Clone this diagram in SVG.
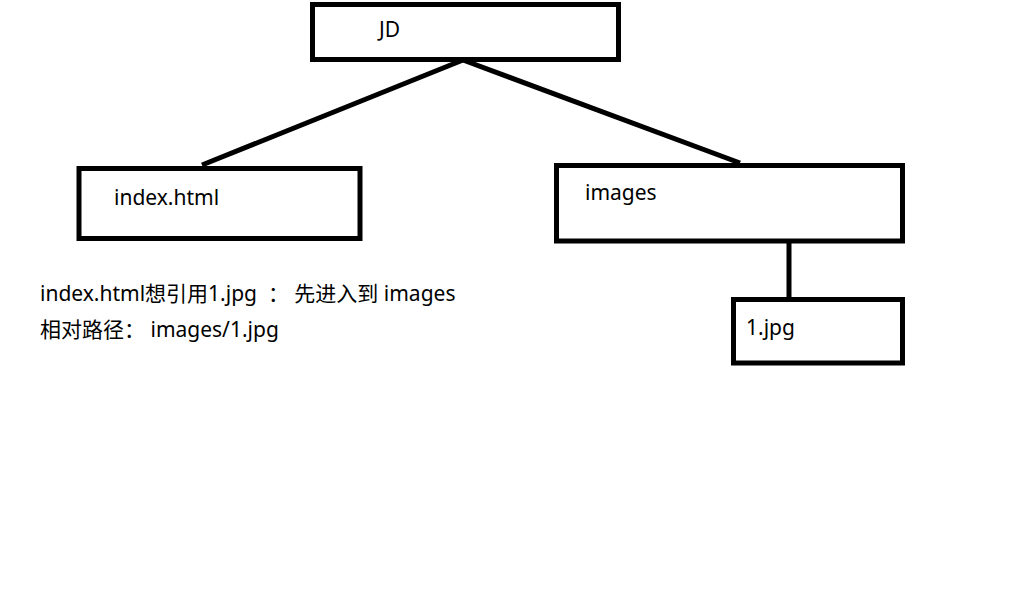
<svg xmlns="http://www.w3.org/2000/svg" width="1018" height="606" viewBox="0 0 1018 606">
<style>
.box{fill:#fff;stroke:#000;stroke-width:5}
.conn{stroke:#000;stroke-width:5;fill:none}
text{font-family:"Noto Sans","Noto Sans CJK SC",sans-serif;font-size:21px;fill:#000;white-space:pre}
</style>
<rect width="1018" height="606" fill="#fff"/>
<g id="connectors">
<line class="conn" x1="463" y1="60" x2="202" y2="165"/>
<line class="conn" x1="463" y1="60" x2="740" y2="163"/>
<line class="conn" x1="789" y1="242" x2="789" y2="298"/>
</g>
<g id="jd"><rect class="box" x="312.5" y="4.5" width="306" height="55"/><text x="379" y="37">JD</text></g>
<g id="index"><rect class="box" x="79" y="168.5" width="281" height="70"/><text x="114" y="205">index.html</text></g>
<g id="images"><rect class="box" x="556.5" y="165.5" width="346" height="75.5"/><text x="585" y="200">images</text></g>
<g id="jpg"><rect class="box" x="733.5" y="299.5" width="169" height="63.5"/><text x="746" y="335">1.jpg</text></g>
<g id="note">
<text x="40" y="301" xml:space="preserve">index.html想引用1.jpg  ： 先进入到 images</text>
<text x="40" y="337" xml:space="preserve">相对路径： images/1.jpg</text>
</g>
</svg>
